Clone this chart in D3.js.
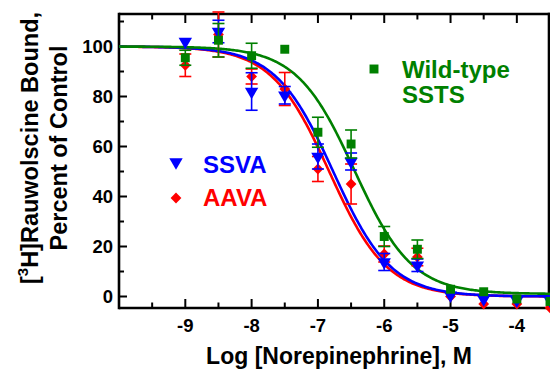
<!DOCTYPE html>
<html>
<head>
<meta charset="utf-8">
<script src="https://cdn.jsdelivr.net/npm/d3@7"></script>
<style>
  html, body { margin: 0; padding: 0; background: #fff; }
  svg { display: block; }
  text { font-family: "Liberation Sans", Arial, sans-serif; font-weight: bold; }
</style>
</head>
<body>
<svg id="chart" width="550" height="370"></svg>
<script>
// ---- data ----
const logConc = [-9, -8.5, -8, -7.5, -7, -6.5, -6, -5.5, -5, -4.5, -4, -3.5];

const ssvaMean = [102, 106, 82, 80.5, 56, 54, 13.8, 12.5, 0.5, -1, -1.5, -1.5];
const ssvaErr  = [0, 4.5, 7.5, 3.5, 5, 3.4, 3.4, 2.5, 0, 0, 0, 0];

const aavaMean = [92.5, 104.8, 88, 83, 51, 45, 17, 15.8, 0, -3, -3, -4.5];
const aavaErr  = [4.5, 9, 3, 6.6, 5, 8, 3.2, 3.5, 0, 0, 0, 0];

const wtMean = [95.5, 102.5, 96.3, 98.9, 65.7, 61, 24, 18.9, 2.9, 1.9, -1, -2];
const wtErr  = [3, 6.7, 5, 0, 6, 5.6, 4, 3.7, 0, 0, 0, 0];

// fitted one-site competition curves: [top, bottom, logIC50]
const ssvaFit = [100, 0, -6.77];
const aavaFit = [100, 0, -6.83];
const wtFit   = [100, 1, -6.45];

const xTicks = [-9, -8, -7, -6, -5, -4];
const xMinorTicks = [-9.5, -8.5, -7.5, -6.5, -5.5, -4.5];
const yTicks = [0, 20, 40, 60, 80, 100];
const yMinorTicks = [10, 30, 50, 70, 90, 110];

// ---- drawing ----
const svg = d3.select("#chart");
const x = d3.scaleLinear().domain([-10, -3.5]).range([119, 550]);
const y = d3.scaleLinear().domain([-4.6, 113]).range([308, 14]);

const BLUE = "#0000ff", RED = "#ff0000", GREEN = "#008000";

// axes frame
const frame = svg.append("g").attr("stroke", "#000").attr("stroke-width", 2.6).attr("fill", "none");
frame.append("line").attr("x1", x(-10)).attr("x2", 551).attr("y1", y(-4.6)).attr("y2", y(-4.6));
frame.append("line").attr("x1", x(-10)).attr("x2", 551).attr("y1", y(113)).attr("y2", y(113));
frame.append("line").attr("x1", x(-10)).attr("x2", x(-10)).attr("y1", y(113) - 1.3).attr("y2", y(-4.6) + 1.3);
frame.append("line").attr("x1", x(-3.5) - 1).attr("x2", x(-3.5) - 1).attr("y1", y(113) - 1.3).attr("y2", y(-4.6) + 1.3);

// ticks (inward)
const ticks = svg.append("g").attr("stroke", "#000").attr("stroke-width", 2);
xTicks.forEach(t => {
  ticks.append("line").attr("x1", x(t)).attr("x2", x(t)).attr("y1", y(-4.6)).attr("y2", y(-4.6) - 9);
  ticks.append("line").attr("x1", x(t)).attr("x2", x(t)).attr("y1", y(113)).attr("y2", y(113) + 9);
});
xMinorTicks.forEach(t => {
  ticks.append("line").attr("x1", x(t)).attr("x2", x(t)).attr("y1", y(-4.6)).attr("y2", y(-4.6) - 5.5);
  ticks.append("line").attr("x1", x(t)).attr("x2", x(t)).attr("y1", y(113)).attr("y2", y(113) + 5.5);
});
yTicks.forEach(t => {
  ticks.append("line").attr("x1", x(-10)).attr("x2", x(-10) + 8).attr("y1", y(t)).attr("y2", y(t));
});
yMinorTicks.forEach(t => {
  ticks.append("line").attr("x1", x(-10)).attr("x2", x(-10) + 5).attr("y1", y(t)).attr("y2", y(t));
});

// tick labels
svg.append("g").selectAll("text").data(yTicks).join("text")
  .attr("x", 113).attr("y", d => y(d)).attr("dy", "0.36em")
  .attr("text-anchor", "end").attr("font-size", 18.5).text(d => d);
svg.append("g").selectAll("text").data(xTicks).join("text")
  .attr("x", d => x(d)).attr("y", 332)
  .attr("text-anchor", "middle").attr("font-size", 18.5).text(d => "-" + Math.abs(d));

// axis titles
svg.append("text").attr("x", 339).attr("y", 364).attr("text-anchor", "middle")
  .attr("font-size", 23).text("Log [Norepinephrine], M");
const yt1 = svg.append("text").attr("transform", "translate(38,148) rotate(-90)")
  .attr("text-anchor", "middle").attr("font-size", 23.5);
yt1.append("tspan").text("[");
yt1.append("tspan").attr("font-size", 15).attr("dy", -10).text("3");
yt1.append("tspan").attr("dy", 10).text("H]Rauwolscine Bound,");
svg.append("text").attr("transform", "translate(67,148) rotate(-90)")
  .attr("text-anchor", "middle").attr("font-size", 23.5).text("Percent of Control");

// curves
function curve(fit) {
  const [top, bottom, ic] = fit;
  const xs = d3.range(-10, -3.5 + 1e-9, 0.02);
  return xs.map(v => [v, bottom + (top - bottom) / (1 + Math.pow(10, v - ic))]);
}
const line = d3.line().x(d => x(d[0])).y(d => y(d[1]));
[[aavaFit, RED], [ssvaFit, BLUE], [wtFit, GREEN]].forEach(([fit, col]) => {
  svg.append("path").attr("d", line(curve(fit))).attr("fill", "none")
    .attr("stroke", col).attr("stroke-width", 2.6);
});

// error bars + markers
const symTri = d3.symbol().type(d3.symbolTriangle).size(78);
const symSq = d3.symbol().type(d3.symbolSquare).size(80);
const symDia = d3.symbol().type(d3.symbolSquare).size(58);

function series(means, errs, col, path, rot) {
  const g = svg.append("g");
  logConc.forEach((c, i) => {
    const m = means[i], e = errs[i];
    if (e > 0) {
      const eg = g.append("g").attr("stroke", col).attr("stroke-width", 1.6);
      eg.append("line").attr("x1", x(c)).attr("x2", x(c)).attr("y1", y(m - e)).attr("y2", y(m + e));
      eg.append("line").attr("x1", x(c) - 6).attr("x2", x(c) + 6).attr("y1", y(m - e)).attr("y2", y(m - e));
      eg.append("line").attr("x1", x(c) - 6).attr("x2", x(c) + 6).attr("y1", y(m + e)).attr("y2", y(m + e));
    }
    g.append("path").attr("d", path)
      .attr("transform", `translate(${x(c)},${y(m)}) rotate(${rot})`)
      .attr("fill", col);
  });
}
series(aavaMean, aavaErr, RED, symDia(), 45);
series(ssvaMean, ssvaErr, BLUE, symTri(), 180);
series(wtMean, wtErr, GREEN, symSq(), 0);

// legend
svg.append("path").attr("d", symTri()).attr("transform", "translate(176,162) rotate(180)").attr("fill", BLUE);
svg.append("text").attr("x", 203).attr("y", 172.5).attr("font-size", 24).attr("fill", BLUE).text("SSVA");
svg.append("path").attr("d", symDia()).attr("transform", "translate(176,198) rotate(45)").attr("fill", RED);
svg.append("text").attr("x", 203).attr("y", 206).attr("font-size", 24).attr("fill", RED).text("AAVA");
svg.append("path").attr("d", symSq()).attr("transform", "translate(374,69)").attr("fill", GREEN);
svg.append("text").attr("x", 402).attr("y", 77.5).attr("font-size", 24).attr("fill", GREEN).text("Wild-type");
svg.append("text").attr("x", 402).attr("y", 103.3).attr("font-size", 24).attr("fill", GREEN).text("SSTS");
</script>
</body>
</html>
